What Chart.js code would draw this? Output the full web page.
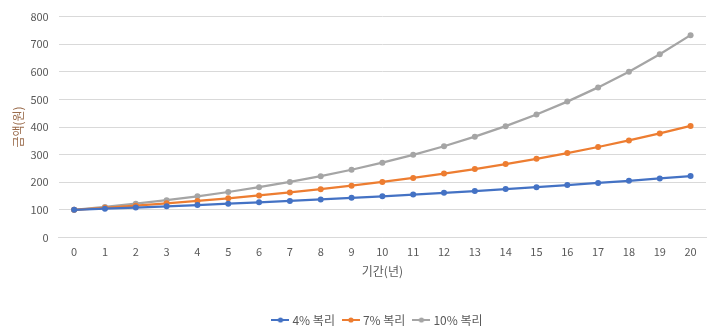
<!DOCTYPE html>
<html>
<head>
<meta charset="utf-8">
<script src="https://cdn.jsdelivr.net/npm/chart.js@4/dist/chart.umd.min.js"></script>
<style>
  html, body { margin: 0; padding: 0; background: #fff; }
  #wrap { width: 716px; height: 330px; }
</style>
</head>
<body>
<div id="wrap"><canvas id="growthChart" width="716" height="330"></canvas></div>
<script>
// 기간(년) 0~20, 원금 100원 월복리
const years = ['0','1','2','3','4','5','6','7','8','9','10','11','12','13','14','15','16','17','18','19','20'];
const rate4 = [100, 104.07, 108.31, 112.73, 117.32, 122.10, 127.07, 132.25, 137.64, 143.25, 149.08,
  155.16, 161.48, 168.06, 174.91, 182.04, 189.46, 197.17, 205.21, 213.57, 222.26];
const rate7 = [100, 107.23, 114.98, 123.29, 132.21, 141.76, 152.01, 163.00, 174.78, 187.42, 200.97,
  215.50, 231.08, 247.78, 265.69, 284.90, 305.49, 327.58, 351.26, 376.65, 403.87];
const rate10 = [100, 110.47, 122.04, 134.82, 148.94, 164.53, 181.76, 200.80, 221.82, 245.05, 270.70,
  299.05, 330.37, 364.96, 403.17, 445.39, 492.03, 543.55, 600.47, 663.35, 732.81];
const seriesNames = ['4% 복리', '7% 복리', '10% 복리'];
const yTicks = [0, 100, 200, 300, 400, 500, 600, 700, 800];

const colors = ['#4472C4', '#ED7D31', '#A5A5A5'];
const FONT = '"Noto Sans CJK KR", "Noto Sans", sans-serif';

// legend marker: short line with a dot in the middle
function lineMarker(color) {
  const c = document.createElement('canvas');
  c.width = 18; c.height = 8;
  const ctx = c.getContext('2d');
  ctx.strokeStyle = color;
  ctx.lineWidth = 2;
  ctx.beginPath();
  ctx.moveTo(0, 4); ctx.lineTo(18, 4);
  ctx.stroke();
  ctx.fillStyle = color;
  ctx.beginPath();
  ctx.arc(9, 4, 2.6, 0, Math.PI * 2);
  ctx.fill();
  return c;
}

const markers = colors.map(lineMarker);

// nudge the legend right of center and down toward the bottom edge
const legendShift = {
  id: 'legendShift',
  afterLayout(chart) {
    const lg = chart.legend;
    if (lg) {
      lg.left += 20;
      lg.right += 20;
      lg.top += 6;
      lg.bottom += 6;
    }
  }
};

function makeSet(label, data, color) {
  return {
    label: label,
    data: data,
    borderColor: color,
    backgroundColor: color,
    borderWidth: 2.25,
    pointRadius: 3,
    pointHoverRadius: 3,
    pointBorderWidth: 0,
    tension: 0
  };
}

new Chart(document.getElementById('growthChart'), {
  type: 'line',
  data: {
    labels: years,
    datasets: [
      makeSet(seriesNames[0], rate4, colors[0]),
      makeSet(seriesNames[1], rate7, colors[1]),
      makeSet(seriesNames[2], rate10, colors[2])
    ]
  },
  plugins: [legendShift],
  options: {
    responsive: false,
    animation: false,
    layout: { padding: { left: 11, right: 10, top: 10, bottom: 0 } },
    plugins: {
      tooltip: { enabled: false },
      legend: {
        position: 'bottom',
        labels: {
          usePointStyle: true,
          boxWidth: 18,
          boxHeight: 8,
          padding: 10,
          color: '#595959',
          font: { family: FONT, size: 12 },
          generateLabels: function(chart) {
            return chart.data.datasets.map((ds, i) => ({
              text: ds.label,
              fillStyle: ds.borderColor,
              strokeStyle: ds.borderColor,
              fontColor: '#595959',
              pointStyle: markers[i],
              lineWidth: 0,
              hidden: false,
              datasetIndex: i
            }));
          }
        }
      }
    },
    scales: {
      x: {
        offset: true,
        grid: { display: false, drawTicks: false },
        border: { color: '#d9d9d9' },
        ticks: { color: '#595959', font: { family: FONT, size: 11 }, padding: 8, maxRotation: 0, autoSkip: false },
        title: { display: true, text: '기간(년)', color: '#595959', font: { family: FONT, size: 12 }, padding: { top: -2, bottom: 19 } }
      },
      y: {
        min: 0,
        max: 800,
        afterBuildTicks: function(scale) {
          scale.ticks = yTicks.map(v => ({ value: v }));
        },
        grid: { color: '#d9d9d9', drawTicks: false },
        border: { display: false },
        ticks: { color: '#595959', font: { family: FONT, size: 11 }, padding: 10 },
        title: { display: true, text: '금액(원)', color: '#9a6b4b', font: { family: FONT, size: 12 }, padding: { top: 0, bottom: -5 } }
      }
    }
  }
});
</script>
</body>
</html>
